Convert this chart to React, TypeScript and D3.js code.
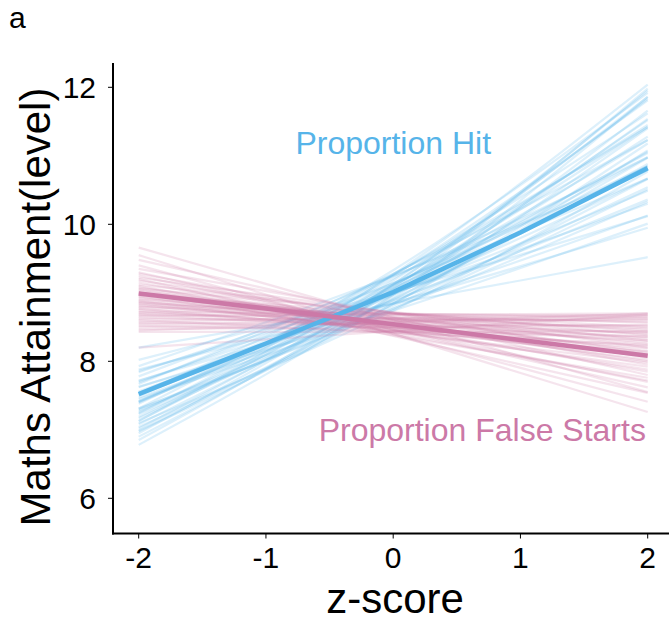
import React from "react";
import * as d3 from "d3";

// z-score grid for the fitted (mean) lines
const zGrid = [-2, -1, 0, 1, 2];
const hitMean = [7.52, 8.26, 9.01, 9.88, 10.82];
const falseStartMean = [8.99, 8.77, 8.54, 8.31, 8.08];

// posterior draws, evaluated at z = -2, 0, 2
const drawZ = [-2, 0, 2];
const hitDrawLow = [6.85, 7.02, 6.9, 7.24, 7.08, 7.04, 7.26, 7.38, 7.23, 7.4, 7.52, 7.41, 7.54, 7.28, 7.67, 7.56, 7.47, 7.69, 7.71, 7.62, 7.84, 7.63, 7.86, 7.88, 7.78, 6.78, 7.13, 7.17, 6.99, 7.42, 7.1, 7.93, 7.72, 8.02, 7.5, 7.3, 7.41, 7.19, 7.31, 8.2, 7.31, 7.45, 7.13, 6.98, 6.95];
const hitDrawMid = [9.06, 9.13, 8.97, 9.25, 9.04, 8.84, 9.1, 9.26, 8.9, 9.11, 9.27, 8.97, 9.12, 8.81, 9.28, 8.98, 8.87, 9.14, 8.99, 8.89, 9.14, 8.74, 9.0, 8.85, 9.24, 8.97, 9.27, 9.0, 8.93, 9.06, 8.74, 9.25, 8.84, 9.01, 9.07, 8.91, 9.21, 9.1, 8.77, 8.84, 9.33, 8.77, 9.18, 8.84, 9.12];
const hitDrawHigh = [11.98, 11.86, 11.66, 11.81, 11.54, 11.08, 11.42, 11.62, 10.97, 11.23, 11.42, 10.85, 11.04, 10.66, 11.23, 10.67, 10.54, 10.85, 10.49, 10.36, 10.67, 10.01, 10.3, 9.95, 10.98, 11.86, 12.04, 11.28, 11.4, 11.06, 10.77, 10.79, 10.13, 10.12, 10.98, 10.88, 11.45, 11.52, 10.51, 9.52, 11.92, 10.33, 11.83, 11.18, 11.95];

const fsDrawLow = [9.66, 9.55, 9.48, 9.4, 9.35, 9.3, 9.28, 9.25, 9.22, 9.2, 9.18, 9.15, 9.12, 9.1, 9.08, 9.06, 9.05, 9.03, 9.01, 9.0, 8.98, 8.97, 8.95, 8.94, 8.92, 8.9, 8.89, 8.87, 8.86, 8.85, 8.83, 8.82, 8.8, 8.79, 8.77, 8.76, 8.74, 8.72, 8.71, 8.69, 8.68, 8.66, 8.64, 8.62, 8.6, 8.58, 8.56, 8.54, 8.52, 8.5, 8.47, 8.45, 8.43, 8.2];
const fsDrawMid = [8.6, 8.4, 8.64, 8.4, 8.7, 8.46, 8.61, 8.47, 8.71, 8.37, 8.65, 8.5, 8.71, 8.41, 8.54, 8.72, 8.46, 8.59, 8.38, 8.62, 8.5, 8.7, 8.43, 8.63, 8.51, 8.7, 8.43, 8.57, 8.66, 8.46, 8.69, 8.5, 8.6, 8.7, 8.45, 8.62, 8.48, 8.69, 8.53, 8.63, 8.49, 8.68, 8.53, 8.61, 8.42, 8.63, 8.54, 8.59, 8.44, 8.56, 8.5, 8.57, 8.43, 8.44];
const fsDrawHigh = [7.55, 7.26, 7.8, 7.41, 8.05, 7.62, 7.95, 7.7, 8.2, 7.54, 8.12, 7.85, 8.3, 7.72, 8.0, 8.38, 7.88, 8.15, 7.76, 8.25, 8.02, 8.43, 7.92, 8.33, 8.1, 8.5, 7.98, 8.28, 8.46, 8.08, 8.56, 8.19, 8.4, 8.62, 8.14, 8.48, 8.22, 8.66, 8.36, 8.58, 8.31, 8.7, 8.42, 8.6, 8.24, 8.68, 8.52, 8.65, 8.36, 8.63, 8.53, 8.7, 8.44, 8.68];

const xTicks = [-2, -1, 0, 1, 2];
const yTicks = [6, 8, 10, 12];

const HIT = "#56B4E9";
const FS = "#CC79A7";
const FONT = "'Liberation Sans', Arial, Helvetica, sans-serif";

const W = 669;
const H = 623;
const axisLeft = 113;
const axisBottom = 533.5;
const axisTop = 63;

export default function App() {
  const x = d3.scaleLinear().domain([-2, 2]).range([138.7, 647.7]);
  const y = d3.scaleLinear().domain([6, 12]).range([498.3, 87.3]);

  const curve = d3
    .line<[number, number]>()
    .x((d) => x(d[0]))
    .y((d) => y(d[1]))
    .curve(d3.curveNatural);
  const straight = d3
    .line<[number, number]>()
    .x((d) => x(d[0]))
    .y((d) => y(d[1]));

  const draws = (lo: number[], mid: number[], hi: number[]) =>
    lo.map((v, i) => [v, mid[i], hi[i]].map((val, j) => [drawZ[j], val] as [number, number]));

  const hitDraws = draws(hitDrawLow, hitDrawMid, hitDrawHigh);
  const fsDraws = draws(fsDrawLow, fsDrawMid, fsDrawHigh);
  const hitLine = hitMean.map((v, i) => [zGrid[i], v] as [number, number]);
  const fsLine = falseStartMean.map((v, i) => [zGrid[i], v] as [number, number]);

  return (
    <svg
      width={W}
      height={H}
      style={{ position: "absolute", left: 0, top: 0, background: "#fff" }}
      fontFamily={FONT}
    >
      <text x={9} y={28} fontSize={30} fill="#000">
        a
      </text>

      <g fill="none" strokeLinecap="butt">
        {hitDraws.map((d, i) => (
          <path key={"h" + i} d={curve(d) || ""} stroke={HIT} strokeWidth={2.2} strokeOpacity={0.2} />
        ))}
        {fsDraws.map((d, i) => (
          <path key={"f" + i} d={curve(d) || ""} stroke={FS} strokeWidth={2.2} strokeOpacity={0.2} />
        ))}
        <path d={straight(hitLine) || ""} stroke={HIT} strokeWidth={4.5} />
        <path d={straight(fsLine) || ""} stroke={FS} strokeWidth={4.5} />
      </g>

      <text
        x={x(0)}
        y={y(11.2) + 11.5}
        fontSize={32}
        fill={HIT}
        textAnchor="middle"
      >
        Proportion Hit
      </text>
      <text
        x={x(0.7)}
        y={y(7.0) + 11.5}
        fontSize={32}
        fill={FS}
        textAnchor="middle"
      >
        Proportion False Starts
      </text>

      {/* axes */}
      <line x1={axisLeft} x2={axisLeft} y1={axisTop} y2={axisBottom + 1} stroke="#000" strokeWidth={2} />
      <line x1={axisLeft - 1} x2={W} y1={axisBottom} y2={axisBottom} stroke="#000" strokeWidth={2} />

      {yTicks.map((t) => (
        <g key={"yt" + t}>
          <line x1={axisLeft - 5} x2={axisLeft} y1={y(t)} y2={y(t)} stroke="#000" strokeWidth={1} />
          <text x={axisLeft - 17} y={y(t) + 10.6} fontSize={30} textAnchor="end" fill="#000">
            {t}
          </text>
        </g>
      ))}
      {xTicks.map((t) => (
        <g key={"xt" + t}>
          <line x1={x(t)} x2={x(t)} y1={axisBottom} y2={axisBottom + 5} stroke="#000" strokeWidth={1} />
          <text x={x(t)} y={568} fontSize={30} textAnchor="middle" fill="#000">
            {t}
          </text>
        </g>
      ))}

      <text x={395} y={613} fontSize={42} textAnchor="middle" fill="#000">
        z-score
      </text>
      <text
        transform={`translate(50, 307) rotate(-90)`}
        fontSize={42}
        textAnchor="middle"
        fill="#000"
      >
        Maths Attainment(level)
      </text>
    </svg>
  );
}
